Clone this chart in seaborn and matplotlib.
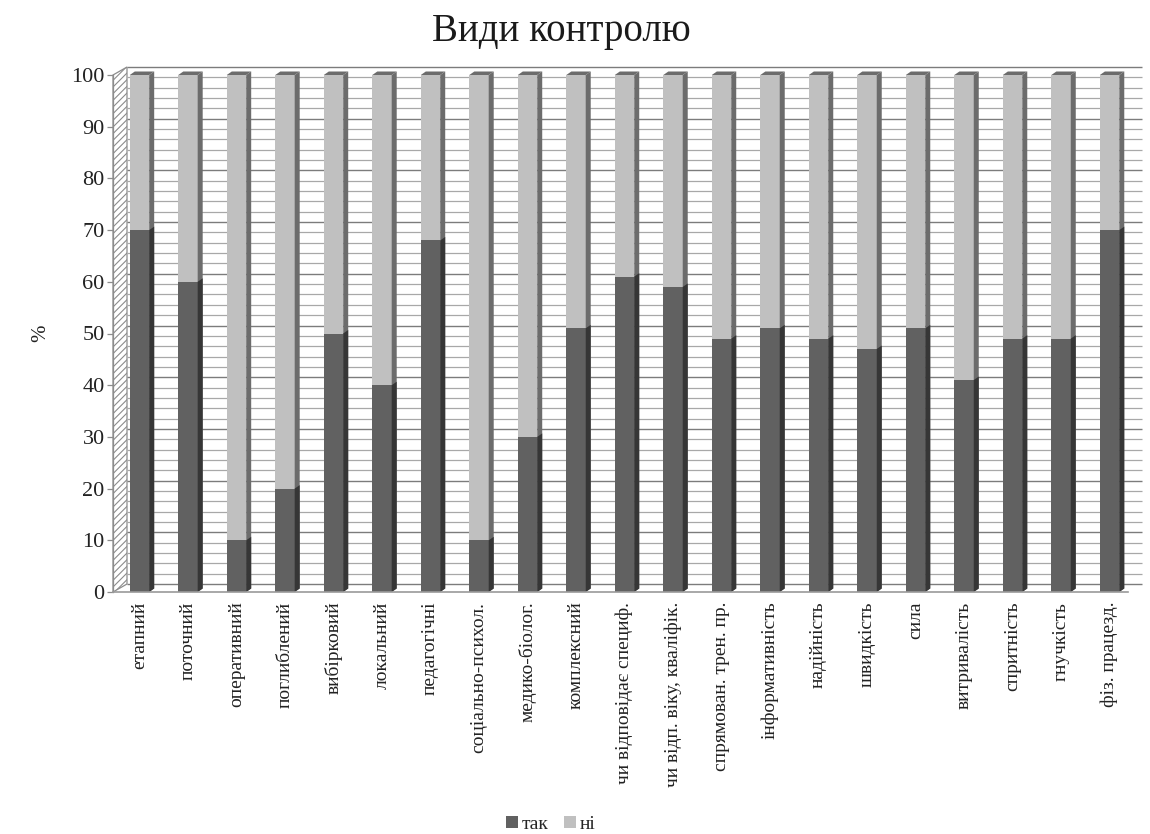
import matplotlib
matplotlib.use("Agg")
import matplotlib.pyplot as plt
from matplotlib.patches import Polygon, Patch
from matplotlib.transforms import offset_copy
import seaborn as sns
import pandas as pd

categories = ["етапний", "поточний", "оперативний", "поглиблений", "вибірковий",
              "локальний", "педагогічні", "соціально-психол.", "медико-біолог.",
              "комплексний", "чи відповідає специф.", "чи відп. віку, кваліфік.",
              "спрямован. трен. пр.", "інформативність", "надійність", "швидкість",
              "сила", "витривалість", "спритність", "гнучкість", "фіз. працезд."]
tak = [70, 60, 10, 20, 50, 40, 68, 10, 30, 51, 61, 59, 49, 51, 49, 47, 51, 41, 49, 49, 70]
ni = [30, 40, 90, 80, 50, 60, 32, 90, 70, 49, 39, 41, 51, 49, 51, 53, 49, 59, 51, 51, 30]
series_names = ["так", "ні"]
title = "Види контролю"
y_label = "%"

sns.set_style("white")
plt.rcParams["font.family"] = ["Liberation Serif", "DejaVu Serif"]
plt.rcParams["hatch.color"] = "#c4c4c4"
plt.rcParams["hatch.linewidth"] = 0.8

df = pd.DataFrame({"cat": categories, "tak": tak, "ni": ni})
df["total"] = df["tak"] + df["ni"]

W, H = 1150, 834
fig = plt.figure(figsize=(W / 100, H / 100), dpi=100)
ax_l, ax_r, ax_b, ax_t = 113, 1128, 592, 75
ax = fig.add_axes([ax_l / W, (H - ax_b) / H, (ax_r - ax_l) / W, (ax_b - ax_t) / H])

c_dark, c_light = "#616161", "#c0c0c0"
c_dark_side, c_light_side = "#363636", "#6c6c6c"

# stacked bars: full-height light bars, dark "так" part drawn over them
sns.barplot(data=df, x="cat", y="total", color=c_light, saturation=1, width=0.4,
            linewidth=0, ax=ax)
n_light = len(ax.patches)
sns.barplot(data=df, x="cat", y="tak", color=c_dark, saturation=1, width=0.4,
            linewidth=0, ax=ax)

xmin, xmax = -0.546, 20.38
ax.set_xlim(xmin, xmax)
ax.set_ylim(0, 100)

# depth of the pseudo-3D look
depth_px_x, depth_px_y = 14, 8
ax_w_px, ax_h_px = ax_r - ax_l, ax_b - ax_t
bar_dx = 5 * (xmax - xmin) / ax_w_px
bar_dy = 3.5 * 100 / ax_h_px

patches = list(ax.patches)
for k, p in enumerate(patches):
    light = k < n_light
    base_z = 2.0 if light else 2.4
    p.set_zorder(base_z)
    x0, y0 = p.get_x(), p.get_y()
    x1, y1 = x0 + p.get_width(), y0 + p.get_height()
    side = Polygon([(x1, y0), (x1, y1), (x1 + bar_dx, y1 + bar_dy), (x1 + bar_dx, y0 + bar_dy)],
                   closed=True, facecolor=c_light_side if light else c_dark_side,
                   edgecolor="none", zorder=base_z + 0.1, clip_on=False)
    ax.add_patch(side)
    if light:
        top = Polygon([(x0, y1), (x1, y1), (x1 + bar_dx, y1 + bar_dy), (x0 + bar_dx, y1 + bar_dy)],
                      closed=True, facecolor=c_light_side, edgecolor="none",
                      zorder=base_z + 0.1, clip_on=False)
        ax.add_patch(top)

# back-wall gridlines
back = offset_copy(ax.get_yaxis_transform(), fig=fig, x=depth_px_x, y=depth_px_y, units="dots")
minor_vals = [v for v in range(0, 101, 2) if v % 10]
major_vals = list(range(0, 101, 10))
ax.hlines(minor_vals, 0, 1, transform=back, colors="#a8a8a8", linewidth=0.9,
          zorder=0.5, clip_on=False)
ax.hlines(major_vals, 0, 1, transform=back, colors="#7c7c7c", linewidth=1.0,
          zorder=0.6, clip_on=False)

# side wall and floor
ddx, ddy = depth_px_x / ax_w_px, depth_px_y / ax_h_px
wall = Polygon([(0, 0), (0, 1), (ddx, 1 + ddy), (ddx, ddy)], closed=True,
               transform=ax.transAxes, facecolor="white", edgecolor="#8c8c8c",
               linewidth=0.9, hatch="/////", zorder=0.4, clip_on=False)
ax.add_patch(wall)
floor = Polygon([(0, 0), (1, 0), (1 + ddx, ddy), (ddx, ddy)], closed=True,
                transform=ax.transAxes, facecolor="white", edgecolor="none",
                zorder=0.3, clip_on=False)
ax.add_patch(floor)

for s in ["top", "right"]:
    ax.spines[s].set_visible(False)
ax.spines["left"].set_color("#8c8c8c")
ax.spines["bottom"].set_color("#9a9a9a")
ax.spines["left"].set_linewidth(0.9)
ax.spines["bottom"].set_linewidth(1.2)
ax.set_facecolor("none")

ax.set_yticks(major_vals)
ax.tick_params(axis="y", direction="out", length=4, width=0.9, color="#8c8c8c",
               labelsize=16, pad=2, labelcolor="#222222", left=True)
ax.tick_params(axis="x", length=0, labelsize=14, pad=7, labelcolor="#222222",
               labelrotation=90)
ax.set_xlabel("")
ax.set_ylabel(y_label, fontsize=15, color="#222222")
ax.yaxis.set_label_coords(-0.062, 0.5)

fig.text(0.488, 0.962, title, ha="center", va="center", fontsize=28, color="#1a1a1a")

handles = [Patch(facecolor=c_dark, edgecolor="none"), Patch(facecolor=c_light, edgecolor="none")]
fig.legend(handles, series_names, loc="lower center", bbox_to_anchor=(0.479, -0.02),
           ncol=2, frameon=False, fontsize=14, handlelength=0.6, handleheight=0.6,
           handletextpad=0.2, columnspacing=0.8)

fig.savefig("out.png", dpi=100)
